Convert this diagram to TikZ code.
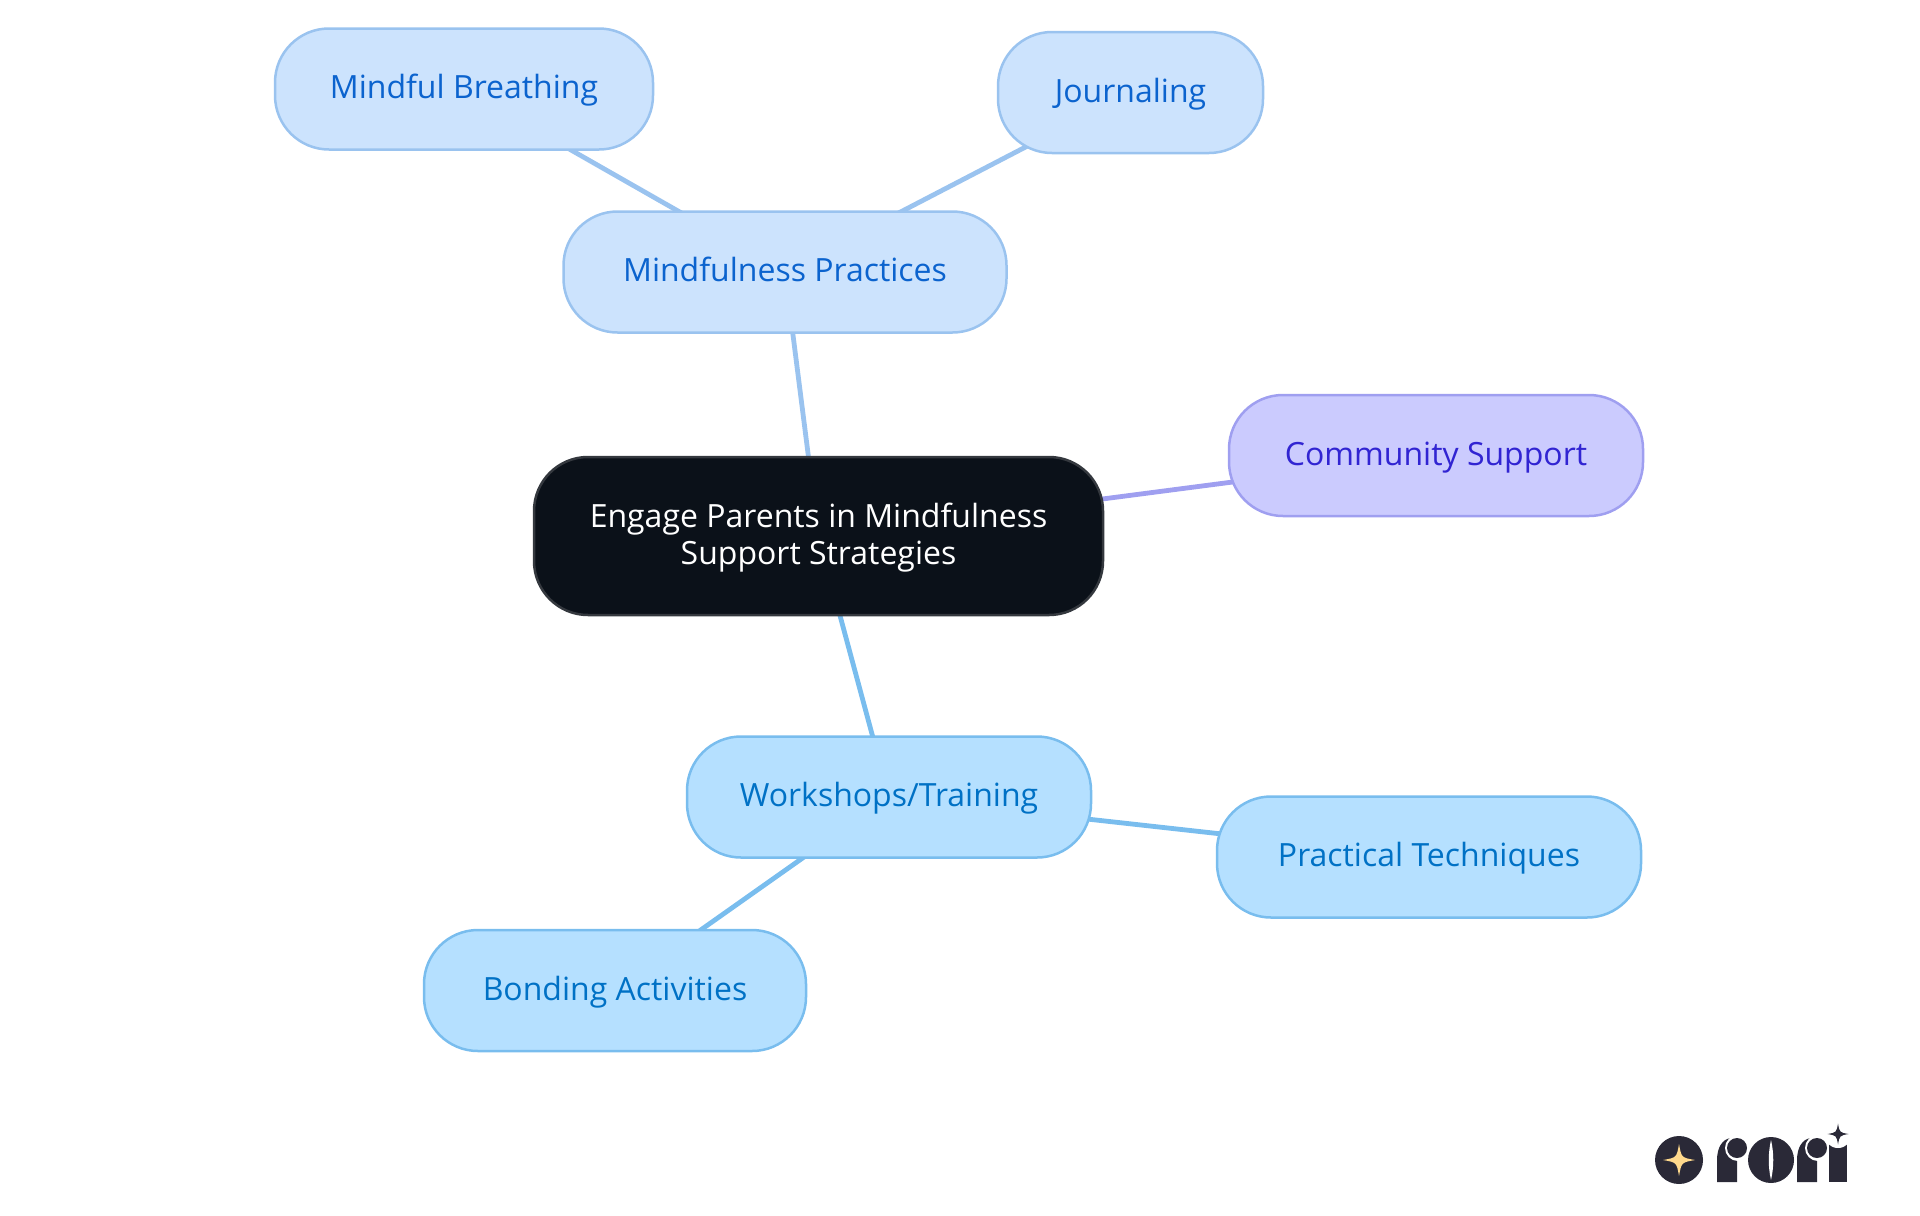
\documentclass[tikz,border=0pt]{standalone}
\usepackage{fontspec}
\setmainfont{Open Sans}
\usetikzlibrary{backgrounds}
\definecolor{practfill}{HTML}{CCE3FD}
\definecolor{practline}{HTML}{9AC3EF}
\definecolor{practtext}{HTML}{0B63CE}
\definecolor{workfill}{HTML}{B5E0FF}
\definecolor{workline}{HTML}{79BDEE}
\definecolor{worktext}{HTML}{0071C5}
\definecolor{commfill}{HTML}{CBCBFE}
\definecolor{commline}{HTML}{9F9FF0}
\definecolor{commtext}{HTML}{3124D2}
\definecolor{rootfill}{HTML}{0B1119}
\definecolor{rootline}{HTML}{34383E}
\definecolor{logodark}{HTML}{2A2937}
\definecolor{logostar}{HTML}{FFD98C}
\tikzset{
  box/.style={draw,line width=1.25pt,rounded corners=27pt,inner sep=0pt,align=center,minimum height=60.5pt,font=\fontsize{16}{18.5}\selectfont},
  leafbox/.style={box,text height=12.5pt,text depth=3pt},
  practbox/.style={leafbox,fill=practfill,draw=practline,text=practtext},
  workbox/.style={leafbox,fill=workfill,draw=workline,text=worktext},
  commbox/.style={leafbox,fill=commfill,draw=commline,text=commtext},
  rootbox/.style={box,fill=rootfill,draw=rootline,text=white,minimum height=79pt},
}
\newcommand{\sparkle}[4]{\fill[#4] (#1+#3,#2) .. controls (#1+0.15*#3,#2+0.15*#3) .. (#1,#2+#3) .. controls (#1-0.15*#3,#2+0.15*#3) .. (#1-#3,#2) .. controls (#1-0.15*#3,#2-0.15*#3) .. (#1,#2-#3) .. controls (#1+0.15*#3,#2-0.15*#3) .. cycle;}
\begin{document}
\begin{tikzpicture}[x=0.5pt,y=-0.5pt]
\useasboundingbox (0,0) rectangle (1920,1215);
\node[rootbox,minimum width=284.5pt] (root) at (818.5,536) {\rule{0pt}{14pt}Engage Parents in Mindfulness\\Support Strategies};
\node[practbox,minimum width=221.5pt] (practices) at (785,272) {Mindfulness Practices};
\node[practbox,minimum width=189pt] (breathing) at (464,89) {Mindful Breathing};
\node[practbox,minimum width=132.5pt] (journaling) at (1130.5,92.5) {Journaling};
\node[commbox,minimum width=207pt] (community) at (1436,455.5) {Community Support};
\node[workbox,minimum width=202pt] (workshops) at (889,797) {Workshops/Training};
\node[workbox,minimum width=212pt] (techniques) at (1429,857) {Practical Techniques};
\node[workbox,minimum width=191pt] (bonding) at (615,990.5) {Bonding Activities};
\begin{scope}[on background layer]
\path[draw,line width=2.4pt,practline] (root.center) -- (practices.center);
\path[draw,line width=2.4pt,practline] (practices.center) -- (breathing.center);
\path[draw,line width=2.4pt,practline] (practices.center) -- (journaling.center);
\path[draw,line width=2.4pt,commline] (root.center) -- (community.center);
\path[draw,line width=2.4pt,workline] (root.center) -- (workshops.center);
\path[draw,line width=2.4pt,workline] (workshops.center) -- (techniques.center);
\path[draw,line width=2.4pt,workline] (workshops.center) -- (bonding.center);
\end{scope}
% logo
\fill[logodark] (1679,1160) circle (12pt);
\sparkle{1679}{1160}{16}{logostar}
\foreach \rx in {0,80}{
\fill[logodark] (1717+\rx,1182) -- (1717+\rx,1160) .. controls (1717+\rx,1148) and (1722+\rx,1139) .. (1731+\rx,1138) -- (1737+\rx,1138) -- (1737+\rx,1182) -- cycle;
\fill[white] (1738+\rx,1148) circle (6.5pt);
\fill[logodark] (1737+\rx,1148) circle (5pt);
}
\fill[logodark] (1771,1160) circle (11.5pt);
\fill[white] (1771,1140) .. controls (1774,1153) and (1774,1167) .. (1771,1180) .. controls (1768,1167) and (1768,1153) .. cycle;
\fill[logodark] (1829,1182) rectangle (1847,1144);
\fill[white] (1838,1134) circle (7pt);
\sparkle{1838}{1134}{10.5}{logodark}
\end{tikzpicture}
\end{document}
